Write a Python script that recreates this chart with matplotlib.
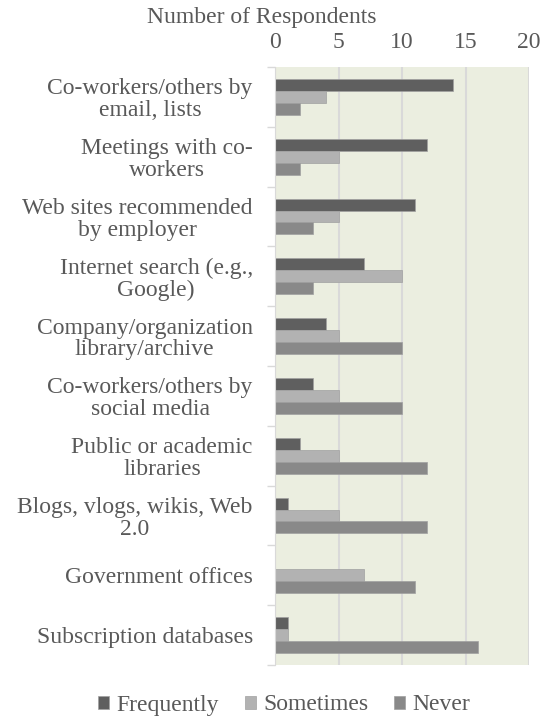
import numpy as np
import matplotlib.pyplot as plt

# Data
categories = ["Co-workers/others by\nemail, lists", "Meetings with co-\nworkers",
              "Web sites recommended\nby employer", "Internet search (e.g.,\nGoogle)",
              "Company/organization\nlibrary/archive", "Co-workers/others by\nsocial media",
              "Public or academic\nlibraries", "Blogs, vlogs, wikis, Web\n2.0",
              "Government offices", "Subscription databases"]
frequently = [14, 12, 11, 7, 4, 3, 2, 1, 0, 1]
sometimes = [4, 5, 5, 10, 5, 5, 5, 5, 7, 1]
never = [2, 2, 3, 3, 10, 10, 12, 12, 11, 16]
series_names = ["Frequently", "Sometimes", "Never"]
colors = ["#5f5f5f", "#b2b2b2", "#898989"]

plt.rcParams["font.family"] = "serif"
plt.rcParams["font.serif"] = ["Liberation Serif", "Times New Roman", "Nimbus Roman",
                              "DejaVu Serif"]

fs = 17
fig = plt.figure(figsize=(5.47, 7.17), dpi=100)
ax = fig.add_axes([275 / 547, 1 - 665 / 717, 254 / 547, 598 / 717])

y = np.arange(len(categories))
h = 0.2
for i, (vals, name, c) in enumerate(zip([frequently, sometimes, never], series_names, colors)):
    ax.barh(y + (i - 1) * h, vals, height=h, color=c, edgecolor="#a0a0a0",
            linewidth=0.5, label=name)

ax.set_facecolor("#ebeee0")
ax.set_xlim(0, 20)
ax.set_ylim(len(categories) - 0.5, -0.5)
ax.set_xticks([0, 5, 10, 15, 20])
ax.xaxis.tick_top()
ax.tick_params(axis="x", length=0, labelsize=fs, colors="#595959", pad=10)
ax.grid(axis="x", color="#d9d9d9", linewidth=1.5)
ax.set_axisbelow(True)

# category labels, with tick marks at the boundaries
ax.set_yticks(np.arange(len(categories) + 1) - 0.5)
ax.set_yticklabels([])
ax.tick_params(axis="y", length=6, color="#d9d9d9", width=1)
ax.set_yticks(y, minor=True)
ax.set_yticklabels(categories, minor=True, fontsize=fs, color="#595959",
                   linespacing=1.05, multialignment="center")
ax.tick_params(axis="y", which="minor", length=0, pad=16)

for s in ["top", "right", "bottom"]:
    ax.spines[s].set_visible(False)
ax.spines["left"].set_color("#d9d9d9")

fig.text(262 / 547, 1 - 17 / 717, "Number of Respondents", ha="center", va="center",
         fontsize=fs, color="#595959")

fig.legend(loc="center", bbox_to_anchor=(284 / 547, 1 - 705 / 717), ncol=3, frameon=False,
           fontsize=fs, handlelength=0.47, handleheight=0.47, handletextpad=0.3,
           columnspacing=1.1, labelcolor="#595959")

fig.savefig("out.png", dpi=100)
